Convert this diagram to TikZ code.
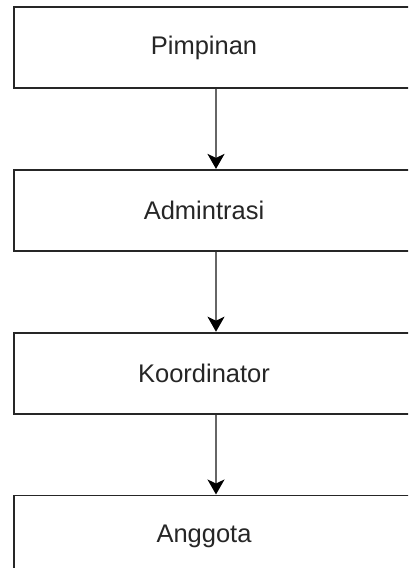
\documentclass[tikz,border=0pt]{standalone}
\usepackage{fontspec}
\setmainfont{Liberation Sans}
\usetikzlibrary{positioning,arrows.meta}

\tikzset{
  box/.style={draw=black!85,line width=1.8pt,minimum width=404pt,minimum height=81pt,inner sep=0pt},
  boxtext/.style={label={[xshift=-12pt,text=black!85,font=\fontsize{25.5}{30}\selectfont]center:#1}},
  link/.style={draw=black!60,line width=1.8pt,-{Stealth[length=15pt,width=17pt,inset=4pt,color=black]}}
}

\begin{document}
\begin{tikzpicture}[x=1pt,y=1pt]
  \useasboundingbox (0,0) rectangle (408,-568);
  \clip (0,0) rectangle (408,-568);

  \node[box,boxtext=Pimpinan] (pimpinan) at (216,-47.5) {};
  \node[box,boxtext=Admintrasi,below=80pt of pimpinan] (admintrasi) {};
  \node[box,boxtext=Koordinator,below=80pt of admintrasi] (koordinator) {};
  \node[box,boxtext=Anggota,below=80pt of koordinator] (anggota) {};

  \foreach \from/\to in {pimpinan/admintrasi,admintrasi/koordinator,koordinator/anggota}
    \draw[link] (\from) -- (\to);
\end{tikzpicture}
\end{document}
